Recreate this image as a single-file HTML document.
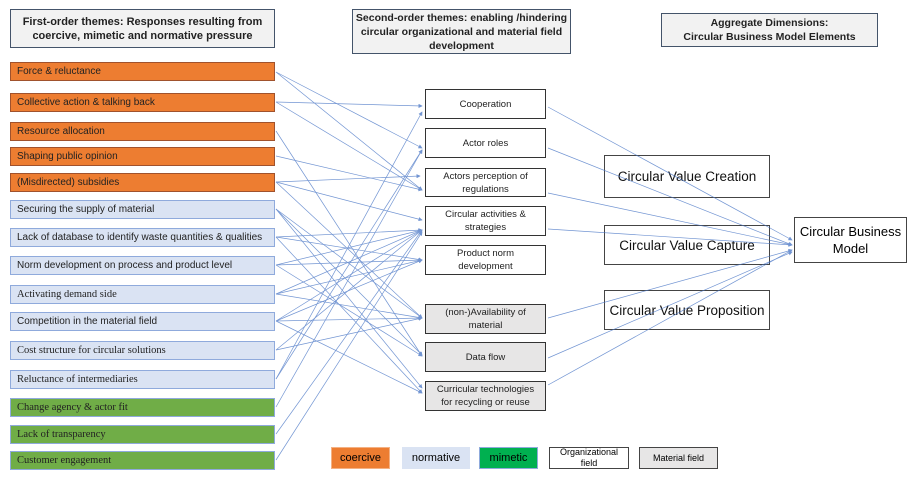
<!DOCTYPE html>
<html><head><meta charset="utf-8"><style>
body{margin:0;width:919px;height:484px;background:#fff;position:relative;overflow:hidden;font-family:"Liberation Sans",sans-serif}
.b{position:absolute;box-sizing:border-box;display:flex;align-items:center}
.h{background:#f2f2f2;border:1.5px solid #44546a;justify-content:center;text-align:center;font-weight:bold;font-size:11px;line-height:14px;color:#222}
.l{left:10px;width:265px;height:19px;font-size:10px;padding-left:6px;color:#222}
.o{background:#ed7d31;border:1.3px solid #a0522d}
.n{background:#dae3f3;border:1.3px solid #8faadc}
.g{background:#70ad47;border:1.3px solid #8faadc;font-family:"Liberation Serif",serif;font-size:10.5px}
.s{font-family:"Liberation Serif",serif;font-size:10.5px}
.m{left:425px;width:121px;justify-content:center;text-align:center;font-size:9.5px;line-height:13px;border:1.5px solid #333;background:#fff;color:#222;padding:0 10px}
.gr{background:#e7e6e6}
.r{left:604px;width:166px;justify-content:center;font-size:13.5px;border:1.5px solid #444;color:#111}
.lg{top:447px;height:22px;font-size:11px;justify-content:center;text-align:center}
svg{z-index:5}
</style></head><body>
<div class="b h" style="left:10px;top:9px;width:265px;height:39px">First-order themes: Responses resulting from<br>coercive, mimetic and normative pressure</div>
<div class="b h" style="left:352px;top:9px;width:219px;height:45px;font-size:10.5px;line-height:14px">Second-order themes: enabling /hindering<br>circular organizational and material field<br>development</div>
<div class="b h" style="left:661px;top:13px;width:217px;height:34px;font-size:10.5px">Aggregate Dimensions:<br>Circular Business Model Elements</div>
<div class="b l o" style="top:62px">Force &amp; reluctance</div>
<div class="b l o" style="top:93px">Collective action &amp; talking back</div>
<div class="b l o" style="top:122px">Resource allocation</div>
<div class="b l o" style="top:147px">Shaping public opinion</div>
<div class="b l o" style="top:173px">(Misdirected) subsidies</div>
<div class="b l n" style="top:200px">Securing the supply of material</div>
<div class="b l n" style="top:228px">Lack of database to identify waste quantities &amp; qualities</div>
<div class="b l n" style="top:256px">Norm development on process and product level</div>
<div class="b l n s" style="top:285px">Activating demand side</div>
<div class="b l n" style="top:312px">Competition in the material field</div>
<div class="b l n s" style="top:341px">Cost structure for circular solutions</div>
<div class="b l n s" style="top:370px">Reluctance of intermediaries</div>
<div class="b l g" style="top:398px">Change agency &amp; actor fit</div>
<div class="b l g" style="top:425px">Lack of transparency</div>
<div class="b l g" style="top:451px">Customer engagement</div>
<div class="b m" style="top:89px;height:30px">Cooperation</div>
<div class="b m" style="top:128px;height:30px">Actor roles</div>
<div class="b m" style="top:168px;height:29px">Actors perception of regulations</div>
<div class="b m" style="top:206px;height:30px">Circular activities &amp; strategies</div>
<div class="b m" style="top:245px;height:30px">Product norm development</div>
<div class="b m gr" style="top:304px;height:30px">(non-)Availability of material</div>
<div class="b m gr" style="top:342px;height:30px">Data flow</div>
<div class="b m gr" style="top:381px;height:30px;padding:0 4px">Curricular technologies<br>for recycling or reuse</div>
<div class="b r" style="top:155px;height:43px">Circular Value Creation</div>
<div class="b r" style="top:225px;height:40px">Circular Value Capture</div>
<div class="b r" style="top:290px;height:40px">Circular Value Proposition</div>
<div class="b" style="left:794px;top:217px;width:113px;height:46px;border:1.5px solid #444;justify-content:center;text-align:center;font-size:13px;line-height:17px">Circular Business Model</div>
<div class="b lg" style="left:331px;width:59px;background:#ed7d31;border:1px solid #f4b183">coercive</div>
<div class="b lg" style="left:402px;width:68px;background:#dae3f3">normative</div>
<div class="b lg" style="left:479px;width:59px;background:#00b050;border:1px solid #8faadc">mimetic</div>
<div class="b lg" style="left:549px;width:80px;border:1.3px solid #444;font-size:9px;line-height:11px;padding:0 10px">Organizational field</div>
<div class="b lg" style="left:639px;width:79px;border:1.3px solid #444;background:#e7e6e6;font-size:9px">Material field</div>
<svg width="919" height="484" style="position:absolute;left:0;top:0">
<defs><marker id="a" markerWidth="6" markerHeight="6" refX="5" refY="3" orient="auto"><path d="M0,0L6,3L0,6z" fill="#4472c4"/></marker></defs>
<g stroke="#4472c4" stroke-width="0.7" fill="none" opacity="0.75" marker-end="url(#a)">
<line x1="276" y1="72" x2="422" y2="148"/><line x1="276" y1="72" x2="422" y2="190"/>
<line x1="276" y1="102" x2="422" y2="106"/><line x1="276" y1="102" x2="422" y2="190"/>
<line x1="276" y1="131" x2="422" y2="356"/>
<line x1="276" y1="156" x2="422" y2="190"/>
<line x1="276" y1="182" x2="420" y2="176"/><line x1="276" y1="182" x2="422" y2="220"/><line x1="276" y1="182" x2="422" y2="318"/>
<line x1="276" y1="209" x2="422" y2="318"/><line x1="276" y1="209" x2="422" y2="388"/><line x1="276" y1="209" x2="422" y2="355"/>
<line x1="276" y1="237" x2="422" y2="230"/><line x1="276" y1="237" x2="422" y2="260"/><line x1="276" y1="237" x2="422" y2="393"/>
<line x1="276" y1="265" x2="422" y2="260"/><line x1="276" y1="265" x2="422" y2="230"/><line x1="276" y1="265" x2="422" y2="356"/>
<line x1="276" y1="294" x2="422" y2="230"/><line x1="276" y1="294" x2="422" y2="260"/><line x1="276" y1="294" x2="422" y2="318"/>
<line x1="276" y1="321" x2="422" y2="230"/><line x1="276" y1="321" x2="422" y2="260"/><line x1="276" y1="321" x2="422" y2="318"/><line x1="276" y1="321" x2="422" y2="393"/>
<line x1="276" y1="350" x2="422" y2="230"/><line x1="276" y1="350" x2="422" y2="318"/>
<line x1="276" y1="379" x2="422" y2="112"/><line x1="276" y1="379" x2="422" y2="150"/>
<line x1="276" y1="407" x2="422" y2="150"/>
<line x1="276" y1="434" x2="422" y2="230"/>
<line x1="276" y1="460" x2="422" y2="232"/>
<line x1="548" y1="107" x2="792" y2="240"/><line x1="548" y1="148" x2="792" y2="245"/>
<line x1="548" y1="193" x2="792" y2="245"/><line x1="548" y1="229" x2="792" y2="245"/>
<line x1="548" y1="318" x2="792" y2="250"/><line x1="548" y1="358" x2="792" y2="252"/><line x1="548" y1="385" x2="792" y2="250"/>
</g></svg>
</body></html>
